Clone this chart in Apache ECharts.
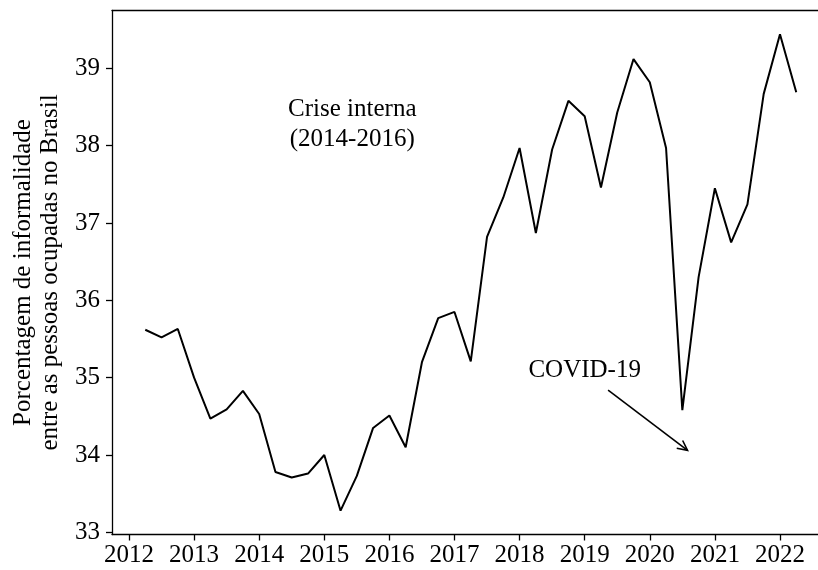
<!DOCTYPE html>
<html>
<head>
<meta charset="utf-8">
<script src="https://cdn.jsdelivr.net/npm/echarts@6/dist/echarts.min.js"></script>
<style>
  html, body { margin: 0; padding: 0; background: #fff; }
  #chart { width: 818px; height: 570px; }
</style>
</head>
<body>
<div id="chart"></div>
<script>
// Quarterly informality rate, 2012 Q2 to 2022 Q2 (decimal years)
const quarters = [
  2012.25, 2012.5, 2012.75,
  2013.0, 2013.25, 2013.5, 2013.75,
  2014.0, 2014.25, 2014.5, 2014.75,
  2015.0, 2015.25, 2015.5, 2015.75,
  2016.0, 2016.25, 2016.5, 2016.75,
  2017.0, 2017.25, 2017.5, 2017.75,
  2018.0, 2018.25, 2018.5, 2018.75,
  2019.0, 2019.25, 2019.5, 2019.75,
  2020.0, 2020.25, 2020.5, 2020.75,
  2021.0, 2021.25, 2021.5, 2021.75,
  2022.0, 2022.25
];
const informality = [
  35.62, 35.52, 35.63,
  35.00, 34.47, 34.59, 34.83,
  34.53, 33.78, 33.71, 33.76,
  34.00, 33.28, 33.73, 34.35,
  34.51, 34.10, 35.20, 35.77,
  35.85, 35.21, 36.82, 37.33,
  37.97, 36.87, 37.95, 38.58,
  38.38, 37.46, 38.43, 39.12,
  38.82, 37.97, 34.58, 36.30,
  37.45, 36.75, 37.24, 38.67,
  39.44, 38.69
];
const yearTicks = [2012, 2013, 2014, 2015, 2016, 2017, 2018, 2019, 2020, 2021, 2022];
const valueTicks = [33, 34, 35, 36, 37, 38, 39];

// Text annotations: [x, y, text]
const crisisNote = [2015.43, 38.27, 'Crise interna\n(2014-2016)'];
const covidNote = [2019.0, 35.09, 'COVID-19'];
// Arrow from the COVID-19 note towards the drop: [x0, y0, x1, y1]
const covidArrow = [2019.36, 34.84, 2020.58, 34.06];

// Visible x window (the frame runs off the right edge)
const xMin = 2011.739, xMax = 2022.584;

const serif = '"Liberation Serif", "DejaVu Serif", serif';
const textBase = { fontFamily: serif, fontSize: 25, color: '#000' };
const spine = { color: '#000', width: 1.3 };

const chart = echarts.init(document.getElementById('chart'), null, { renderer: 'canvas' });

chart.setOption({
  animation: false,
  backgroundColor: '#fff',
  grid: { left: 112, top: 10.5, right: 0, height: 524 },
  xAxis: [
    {
      type: 'value',
      min: xMin, max: xMax,
      axisLine: { show: true, lineStyle: spine },
      axisTick: { show: true, customValues: yearTicks, length: 6, lineStyle: spine },
      axisLabel: { customValues: yearTicks, margin: 8, formatter: v => String(v), ...textBase },
      splitLine: { show: false }
    },
    {
      // top frame line
      type: 'value',
      position: 'top',
      min: xMin, max: xMax,
      axisLine: { show: true, lineStyle: spine },
      axisTick: { show: false },
      axisLabel: { show: false },
      splitLine: { show: false }
    }
  ],
  yAxis: {
    type: 'value',
    min: 32.972, max: 39.748,
    name: 'Porcentagem de informalidade\nentre as pessoas ocupadas no Brasil',
    nameLocation: 'middle',
    nameRotate: 90,
    nameGap: 37,
    nameTextStyle: { ...textBase, lineHeight: 27 },
    axisLine: { show: true, lineStyle: spine },
    axisTick: { show: true, customValues: valueTicks, length: 6, lineStyle: spine },
    axisLabel: { customValues: valueTicks, margin: 12, formatter: v => String(v), ...textBase },
    splitLine: { show: false }
  },
  series: [
    {
      type: 'line',
      data: quarters.map((q, i) => [q, informality[i]]),
      showSymbol: false,
      symbol: 'none',
      lineStyle: { color: '#000', width: 2 },
      markPoint: {
        symbol: 'circle',
        symbolSize: 0,
        silent: true,
        label: { show: true, position: 'inside', ...textBase, lineHeight: 30, align: 'center' },
        data: [
          { coord: [crisisNote[0], crisisNote[1]], value: crisisNote[2], label: { formatter: crisisNote[2] } },
          { coord: [covidNote[0], covidNote[1]], value: covidNote[2], label: { formatter: covidNote[2] } }
        ]
      }
    },
    {
      type: 'custom',
      silent: true,
      clip: false,
      xAxisIndex: 0,
      encode: { x: [0, 2], y: [1, 3] },
      data: [covidArrow],
      renderItem: function (params, api) {
        const a = api.coord([api.value(0), api.value(1)]);
        const b = api.coord([api.value(2), api.value(3)]);
        const ang = Math.atan2(b[1] - a[1], b[0] - a[0]);
        const len = 11, spread = 0.46;
        const h1 = [b[0] - len * Math.cos(ang - spread), b[1] - len * Math.sin(ang - spread)];
        const h2 = [b[0] - len * Math.cos(ang + spread), b[1] - len * Math.sin(ang + spread)];
        const style = { stroke: '#000', lineWidth: 1.6, fill: null };
        return {
          type: 'group',
          children: [
            { type: 'polyline', shape: { points: [a, b] }, style: style },
            { type: 'polyline', shape: { points: [h1, b, h2] }, style: style }
          ]
        };
      }
    }
  ]
});
</script>
</body>
</html>
